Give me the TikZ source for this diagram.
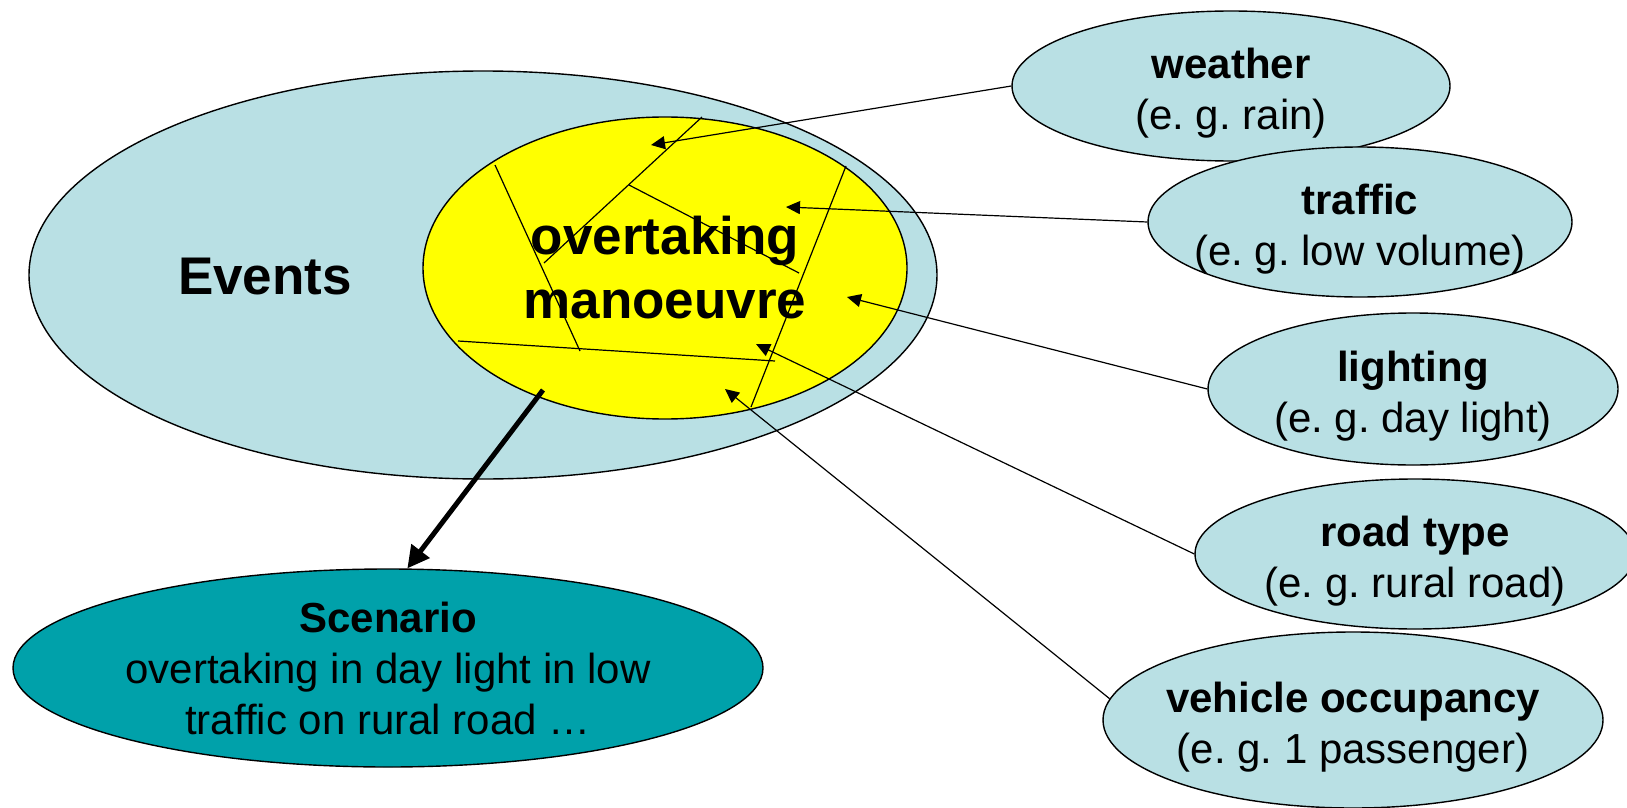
\documentclass[tikz,border=0pt]{standalone}
\usepackage{fontspec}
\setmainfont{Liberation Sans}
\frenchspacing
\usetikzlibrary{shapes.geometric,arrows.meta}

\definecolor{eventblue}{RGB}{185,224,228}
\definecolor{scenteal}{RGB}{0,161,170}
\definecolor{manyellow}{RGB}{255,255,0}

\newcommand{\headline}[1]{\rule{0pt}{22pt}\textbf{#1}}

\begin{document}
\begin{tikzpicture}[x=0.5pt,y=-0.5pt,
  blob/.style={ellipse, draw, line width=0.7pt, inner sep=-12pt, align=center},
  factor/.style={blob, fill=eventblue, font=\fontsize{21}{25.5}\selectfont},
  link/.style={-{Triangle[length=7pt,width=6.5pt]}, line width=0.6pt}]

  \useasboundingbox (0,0) rectangle (1627,808);

  \node[blob, fill=eventblue, minimum width=454pt, minimum height=204pt] (events) at (483,275) {};
  \node[font=\fontsize{26.5}{32}\selectfont\bfseries] (eventlabel) at (265,277) {Events};

  \node[blob, fill=manyellow, minimum width=242pt, minimum height=151pt,
        font=\fontsize{26.5}{32}\selectfont\bfseries] (manoeuvre) at (665,268) {overtaking\\manoeuvre};

  \draw[line width=0.6pt] (702,117) -- (544,263);
  \draw[line width=0.6pt] (629,185) -- (799,273);
  \draw[line width=0.6pt] (495,165) -- (580,351);
  \draw[line width=0.6pt] (458,341) -- (775,361);
  \draw[line width=0.6pt] (846,166) -- (751,407);

  \node[factor, minimum width=219pt, minimum height=75pt] (weather) at (1231,86) {\headline{weather}\\(e. g. rain)};
  \node[factor, minimum width=212pt, minimum height=75pt] (traffic) at (1360,222) {\headline{traffic}\\(e. g. low volume)};
  \node[factor, minimum width=205pt, minimum height=76pt] (lighting) at (1413,389) {\headline{lighting}\\(e. g. day light)};
  \node[factor, minimum width=220pt, minimum height=75pt] (roadtype) at (1415,554) {\headline{road type}\\(e. g. rural road)};
  \node[factor, minimum width=250pt, minimum height=88pt] (occupancy) at (1353,720) {\headline{vehicle occupancy}\\(e. g. 1 passenger)};

  \node[blob, fill=scenteal, minimum width=375pt, minimum height=99pt,
        font=\fontsize{21}{25.5}\selectfont] (scenario) at (388,668)
        {\textbf{Scenario}\\overtaking in day light in low\\traffic on rural road …};

  \coordinate (weathertip) at (651,145);
  \coordinate (traffictip) at (786,207);
  \coordinate (lightingtip) at (847,297);
  \coordinate (roadtip) at (756,344);
  \coordinate (occupancytip) at (725,389);
  \coordinate (scenstart) at (543,390);

  \draw[link] (weather.west) -- (weathertip);
  \draw[link] (traffic.west) -- (traffictip);
  \draw[link] (lighting.west) -- (lightingtip);
  \draw[link] (roadtype.west) -- (roadtip);
  \draw[link] (occupancy.175) -- (occupancytip);

  \draw[line width=2.5pt, -{Triangle[length=11pt,width=11pt]}] (scenstart) -- (scenario.79);

\end{tikzpicture}
\end{document}
